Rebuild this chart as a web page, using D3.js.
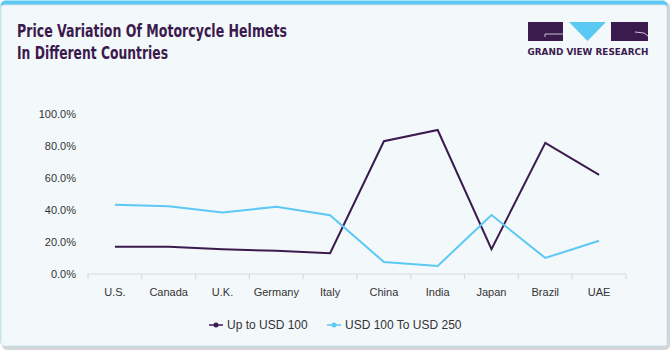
<!DOCTYPE html>
<html>
<head>
<meta charset="utf-8">
<script src="https://cdn.jsdelivr.net/npm/d3@7"></script>
<style>
  html, body { margin: 0; padding: 0; background: #ffffff; }
  svg { display: block; }
</style>
</head>
<body>
<div id="chart"></div>
<script>
// data
var countries = ["U.S.", "Canada", "U.K.", "Germany", "Italy", "China", "India", "Japan", "Brazil", "UAE"];
var upTo100 = [0.17, 0.17, 0.155, 0.145, 0.13, 0.83, 0.90, 0.155, 0.82, 0.62];
var usd100to250 = [0.433, 0.423, 0.385, 0.42, 0.367, 0.075, 0.05, 0.369, 0.10, 0.208];
var yTicks = [0, 0.2, 0.4, 0.6, 0.8, 1.0];
var seriesNames = ["Up to USD 100", "USD 100 To USD 250"];
var seriesColors = ["#3b1a4e", "#5cc8f4"];

var width = 671, height = 351;
var svg = d3.select("#chart").append("svg")
    .attr("width", width)
    .attr("height", height);

// card background with shadow, blue top strip
svg.append("rect")
    .attr("x", 2).attr("y", 2).attr("width", 668).attr("height", 348)
    .attr("rx", 5).attr("fill", "#d4d6d8");
svg.append("rect")
    .attr("x", 0.5).attr("y", 0.5).attr("width", 667).attr("height", 346)
    .attr("rx", 5).attr("fill", "#5cc8f4");
svg.append("rect")
    .attr("x", 1).attr("y", 5).attr("width", 666).attr("height", 341)
    .attr("rx", 3).attr("fill", "#f3f8fb").attr("stroke", "#dfe4e7").attr("stroke-width", 1);

// title (condensed to match the narrow heavy heading font)
var titleFont = "'DejaVu Sans', sans-serif";
svg.append("text")
    .attr("x", 17).attr("y", 37)
    .attr("textLength", 270).attr("lengthAdjust", "spacingAndGlyphs")
    .style("font-family", titleFont)
    .style("font-weight", "bold")
    .style("font-size", "17px")
    .attr("fill", "#3b1a4e")
    .text("Price Variation Of Motorcycle Helmets");
svg.append("text")
    .attr("x", 17).attr("y", 59)
    .attr("textLength", 151).attr("lengthAdjust", "spacingAndGlyphs")
    .style("font-family", titleFont)
    .style("font-weight", "bold")
    .style("font-size", "17px")
    .attr("fill", "#3b1a4e")
    .text("In Different Countries");

// logo
var logo = svg.append("g");
logo.append("rect").attr("x", 528).attr("y", 22).attr("width", 35).attr("height", 19).attr("fill", "#3b1a4e");
logo.append("path").attr("d", "M563,34 L545,34 L545,37").attr("fill", "none").attr("stroke", "#e8eef3").attr("stroke-width", 0.8);
logo.append("path").attr("d", "M569,22 L606,22 L587.5,41 Z").attr("fill", "#5cc8f4");
logo.append("rect").attr("x", 611).attr("y", 22).attr("width", 37).attr("height", 19).attr("fill", "#3b1a4e");
logo.append("path").attr("d", "M635,32 L644,33 L648,36").attr("fill", "none").attr("stroke", "#e8eef3").attr("stroke-width", 0.8);
logo.append("text")
    .attr("x", 588).attr("y", 54.5)
    .attr("text-anchor", "middle")
    .style("font-family", "'DejaVu Sans', sans-serif")
    .style("font-weight", "bold")
    .style("font-size", "8.5px")
    .attr("fill", "#3b1a4e")
    .attr("textLength", 121)
    .attr("lengthAdjust", "spacingAndGlyphs")
    .text("GRAND VIEW RESEARCH");

// scales
var x = d3.scaleBand()
    .domain(countries)
    .range([88, 626])
    .padding(0);

var y = d3.scaleLinear()
    .domain([0, 1])
    .range([274, 114]);

var labelFont = "'Liberation Sans', Arial, sans-serif";

// y axis labels (no line)
svg.append("g")
    .selectAll("text")
    .data(yTicks)
    .enter()
    .append("text")
    .attr("x", 76)
    .attr("y", function (d) { return y(d) + 4; })
    .attr("text-anchor", "end")
    .style("font-family", labelFont)
    .style("font-size", "11px")
    .attr("fill", "#333333")
    .text(function (d) { return d3.format(".1%")(d); });

// x axis line and tick marks at band edges
var axis = svg.append("g");
axis.append("line")
    .attr("x1", x.range()[0]).attr("x2", x.range()[1])
    .attr("y1", y(0)).attr("y2", y(0))
    .attr("stroke", "#d9d9d9").attr("stroke-width", 1.2);
axis.selectAll(".tickmark")
    .data(countries.concat(["end"]))
    .enter()
    .append("line")
    .attr("class", "tickmark")
    .attr("x1", function (d, i) { return x.range()[0] + i * x.bandwidth(); })
    .attr("x2", function (d, i) { return x.range()[0] + i * x.bandwidth(); })
    .attr("y1", y(0)).attr("y2", y(0) + 5)
    .attr("stroke", "#d9d9d9").attr("stroke-width", 1.2);
axis.selectAll(".xlabel")
    .data(countries)
    .enter()
    .append("text")
    .attr("class", "xlabel")
    .attr("x", function (d) { return x(d) + x.bandwidth() / 2; })
    .attr("y", 296)
    .attr("text-anchor", "middle")
    .style("font-family", labelFont)
    .style("font-size", "11px")
    .attr("fill", "#333333")
    .text(function (d) { return d; });

// lines
var line = d3.line()
    .x(function (d, i) { return x(countries[i]) + x.bandwidth() / 2; })
    .y(function (d) { return y(d); });

[upTo100, usd100to250].forEach(function (vals, k) {
    svg.append("path")
        .datum(vals)
        .attr("d", line)
        .attr("fill", "none")
        .attr("stroke", seriesColors[k])
        .attr("stroke-width", 2)
        .attr("stroke-linejoin", "miter");
});

// legend
var legendX = [209, 327];
var legend = svg.append("g");
seriesNames.forEach(function (name, k) {
    var g = legend.append("g").attr("transform", "translate(" + legendX[k] + ",325)");
    g.append("line").attr("x1", 0).attr("x2", 14).attr("y1", 0).attr("y2", 0)
        .attr("stroke", seriesColors[k]).attr("stroke-width", 1.5);
    g.append("circle").attr("cx", 7).attr("cy", 0).attr("r", 2.5).attr("fill", seriesColors[k]);
    g.append("text")
        .attr("x", 18).attr("y", 4)
        .style("font-family", labelFont)
        .style("font-size", "12px")
        .attr("fill", "#333333")
        .text(name);
});
</script>
</body>
</html>
